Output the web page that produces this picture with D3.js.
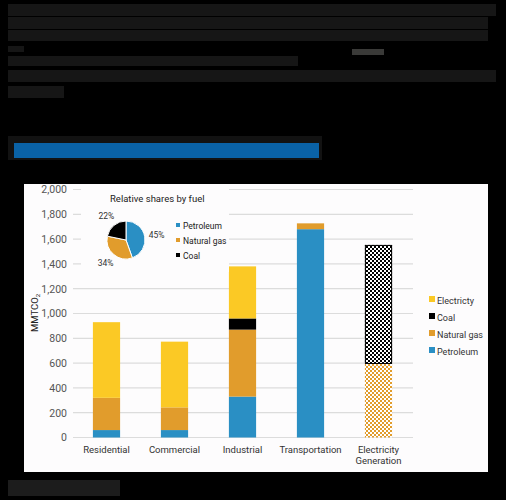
<!DOCTYPE html>
<html>
<head>
<meta charset="utf-8">
<script src="https://cdn.jsdelivr.net/npm/d3@7"></script>
<style>
  body { margin: 0; background: #000; }
  svg { display: block; font-family: Roboto, 'Noto Sans', sans-serif; }
</style>
</head>
<body>
<div id="chart"></div>
<script>
const categories = ['Residential', 'Commercial', 'Industrial', 'Transportation', 'Electricity Generation']
const petroleum = [60, 60, 330, 1680, 0]
const naturalGas = [260, 183, 540, 47, 593]
const coal = [0, 0, 90, 0, 960]
const electricity = [610, 530, 420, 0, 0]
const yTicks = [0, 200, 400, 600, 800, 1000, 1200, 1400, 1600, 1800, 2000]

const pieFuels = ['Petroleum', 'Natural gas', 'Coal']
const pieShares = [45, 34, 22]

const legendItems = ['Electricty', 'Coal', 'Natural gas', 'Petroleum']

const colors = {
	Petroleum: '#2a8fc4',
	'Natural gas': '#e19c2c',
	Coal: '#000000',
	Electricty: '#fbc925'
}

const width = 506
const height = 500
const svg = d3.select('#chart').append('svg').attr('width', width).attr('height', height)

svg.append('rect').attr('width', width).attr('height', height).attr('fill', '#000')

// hidden page text above the chart (rendered as dark blocks)
const hidden = [[8, 4, 488, 12], [8, 17, 480, 12], [8, 30, 480, 11], [8, 46, 16, 6], [8, 56, 290, 10], [8, 70, 488, 12], [8, 86, 56, 12]]
svg.selectAll('rect.hidden').data(hidden).enter().append('rect')
	.attr('x', (d) => d[0]).attr('y', (d) => d[1]).attr('width', (d) => d[2]).attr('height', (d) => d[3])
	.attr('fill', '#161616')
svg.append('rect').attr('x', 352).attr('y', 49).attr('width', 32).attr('height', 6).attr('fill', '#3a3a38')

// blue heading bar
svg.append('rect').attr('x', 8).attr('y', 136).attr('width', 314).attr('height', 24).attr('fill', '#121212')
svg.append('rect').attr('x', 14).attr('y', 143).attr('width', 305).attr('height', 15).attr('fill', '#0a62a6')
svg.append('rect').attr('x', 8).attr('y', 480).attr('width', 112).attr('height', 16).attr('fill', '#1c1c1c')

// white chart panel
svg.append('rect').attr('x', 24).attr('y', 184).attr('width', 464).attr('height', 288).attr('fill', '#fdfcfd')

const defs = svg.append('defs')
function checker(id, color) {
	const p = defs.append('pattern').attr('id', id).attr('patternUnits', 'userSpaceOnUse')
		.attr('width', 4).attr('height', 4)
	p.append('rect').attr('width', 4).attr('height', 4).attr('fill', '#fff')
	p.append('rect').attr('width', 2).attr('height', 2).attr('fill', color)
	p.append('rect').attr('x', 2).attr('y', 2).attr('width', 2).attr('height', 2).attr('fill', color)
}
checker('chkCoal', '#000')
checker('chkGas', '#e19c2c')

const x = d3.scaleBand().domain(categories).range([72.5, 412.5]).paddingInner(0.6).paddingOuter(0.3)
const y = d3.scaleLinear().domain([0, 2000]).range([437.5, 189.5])

// gridlines
svg.append('g').selectAll('line').data(yTicks).enter().append('line')
	.attr('x1', 73).attr('x2', 413)
	.attr('y1', (d) => y(d)).attr('y2', (d) => y(d))
	.attr('stroke', '#dcdcdc').attr('stroke-width', 1.2)

// y axis labels
const yAxis = d3.axisLeft(y).tickValues(yTicks).tickSize(0).tickPadding(0).tickFormat(d3.format(','))
const yg = svg.append('g').attr('transform', 'translate(67,0)').call(yAxis)
yg.select('.domain').remove()
yg.selectAll('text').attr('font-size', 10.5).attr('fill', '#555').attr('font-family', 'Roboto, sans-serif')

svg.append('text')
	.attr('transform', 'translate(38,313) rotate(-90)')
	.attr('text-anchor', 'middle')
	.attr('font-size', 9.5).attr('fill', '#222')
	.html('MMTCO<tspan font-size="6" dy="2">2</tspan>')

// stacked bars
const table = categories.map((c, i) => ({
	category: c, Petroleum: petroleum[i], 'Natural gas': naturalGas[i], Coal: coal[i], Electricty: electricity[i]
}))
const keys = ['Petroleum', 'Natural gas', 'Coal', 'Electricty']
const series = d3.stack().keys(keys)(table)

function fillFor(key, d) {
	if (d.data.category === 'Electricity Generation') {
		if (key === 'Coal') return 'url(#chkCoal)'
		if (key === 'Natural gas') return 'url(#chkGas)'
	}
	return colors[key]
}

series.forEach((s) => {
	svg.append('g').selectAll('rect').data(s.filter((d) => d[1] > d[0])).enter().append('rect')
		.attr('x', (d) => x(d.data.category))
		.attr('width', x.bandwidth())
		.attr('y', (d) => y(d[1]))
		.attr('height', (d) => y(d[0]) - y(d[1]))
		.attr('fill', (d) => fillFor(s.key, d))
})
// outline on electricity generation coal bar
const eg = table[4]
svg.append('rect')
	.attr('x', x(eg.category) + 0.5).attr('width', x.bandwidth() - 1)
	.attr('y', y(eg.Petroleum + eg['Natural gas'] + eg.Coal) + 0.5)
	.attr('height', y(eg.Petroleum + eg['Natural gas']) - y(eg.Petroleum + eg['Natural gas'] + eg.Coal) - 1)
	.attr('fill', 'none').attr('stroke', '#000').attr('stroke-width', 1)

// category labels
const xg = svg.append('g')
categories.forEach((c) => {
	const words = c === 'Electricity Generation' ? ['Electricity', 'Generation'] : [c]
	const t = xg.append('text')
		.attr('x', x(c) + x.bandwidth() / 2).attr('y', 453)
		.attr('text-anchor', 'middle').attr('font-size', 9.5).attr('fill', '#333')
	words.forEach((w, i) => t.append('tspan').attr('x', x(c) + x.bandwidth() / 2).attr('dy', i ? 11 : 0).text(w))
})

// right legend
const lg = svg.append('g')
legendItems.forEach((k, i) => {
	const yy = 300 + i * 17
	lg.append('rect').attr('x', 429).attr('y', yy - 4).attr('width', 6).attr('height', 6).attr('fill', colors[k])
	lg.append('text').attr('x', 437).attr('y', yy + 3.5).attr('font-size', 9).attr('fill', '#333').text(k)
})

// inset pie
svg.append('rect').attr('x', 81).attr('y', 186).attr('width', 148).attr('height', 86).attr('fill', '#fdfcfd')
svg.append('text').attr('x', 110).attr('y', 202).attr('font-size', 9.5).attr('fill', '#222').text('Relative shares by fuel')

const pieData = d3.pie().sort(null)(pieShares)
const arc = d3.arc().innerRadius(0).outerRadius(19)
const pg = svg.append('g').attr('transform', 'translate(126,240)')
pg.selectAll('path').data(pieData).enter().append('path')
	.attr('d', arc)
	.attr('fill', (d, i) => colors[pieFuels[i]])
	.attr('stroke', '#fff').attr('stroke-width', 1)
const labelArc = d3.arc().innerRadius(31).outerRadius(31)
pg.selectAll('text').data(pieData).enter().append('text')
	.attr('transform', (d) => `translate(${labelArc.centroid(d)})`)
	.attr('text-anchor', 'middle').attr('dy', '0.35em')
	.attr('font-size', 8.5).attr('fill', '#333')
	.text((d) => d.data + '%')

pieFuels.forEach((k, i) => {
	const yy = 226 + i * 15
	svg.append('rect').attr('x', 176).attr('y', yy - 3).attr('width', 4).attr('height', 4).attr('fill', colors[k])
	svg.append('text').attr('x', 183).attr('y', yy + 3).attr('font-size', 8.5).attr('fill', '#222').text(k)
})
</script>
</body>
</html>
